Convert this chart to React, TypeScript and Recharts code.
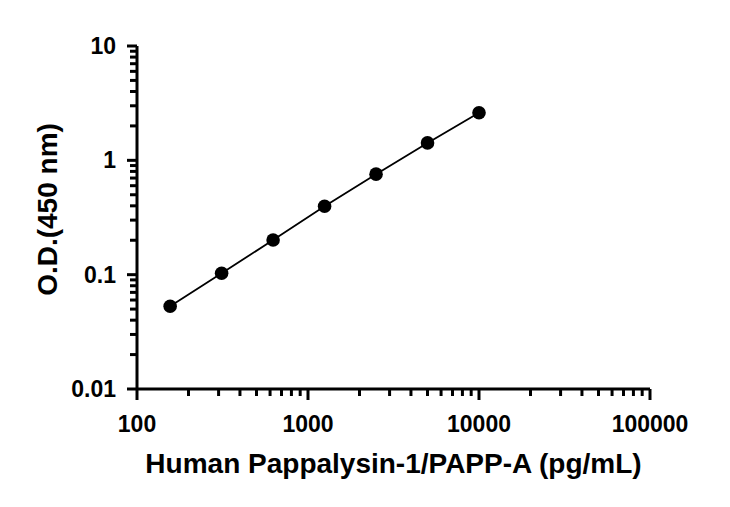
import { ScatterChart, Scatter, XAxis, YAxis } from 'recharts';

// concentration (pg/mL) and optical density readings
const CONCENTRATIONS = [156.25, 312.5, 625, 1250, 2500, 5000, 10000];
const OD_VALUES = [0.053, 0.103, 0.201, 0.397, 0.757, 1.42, 2.61];

const X_MAJOR = [100, 1000, 10000, 100000];
const Y_MAJOR = [0.01, 0.1, 1, 10];
const MINOR_STEPS = [2, 3, 4, 5, 6, 7, 8, 9];

const withMinors = (majors: number[]) => {
  const out: number[] = [];
  majors.forEach((m, i) => {
    out.push(m);
    if (i < majors.length - 1) MINOR_STEPS.forEach((s) => out.push(m * s));
  });
  return out;
};

const X_TICKS = withMinors(X_MAJOR);
const Y_TICKS = withMinors(Y_MAJOR);

const data = CONCENTRATIONS.map((c, i) => ({ conc: c, od: OD_VALUES[i] }));

const FONT = '"Liberation Sans", Arial, sans-serif';

const isMajor = (v: number) => Math.abs(Math.log10(v) - Math.round(Math.log10(v))) < 1e-6;

function XTick(props: any) {
  const { x, y, payload } = props;
  const major = isMajor(payload.value);
  return (
    <g>
      <line x1={x} x2={x} y1={y} y2={y + (major ? 11 : 7)} stroke="#000" strokeWidth={3} />
      {major && (
        <text x={x} y={y + 43} textAnchor="middle" fontFamily={FONT} fontWeight="bold" fontSize={23} fill="#000">
          {payload.value}
        </text>
      )}
    </g>
  );
}

function YTick(props: any) {
  const { x, y, payload } = props;
  const major = isMajor(payload.value);
  return (
    <g>
      <line x1={x} x2={x - (major ? 10 : 7)} y1={y} y2={y} stroke="#000" strokeWidth={3} />
      {major && (
        <text x={x - 21} y={y + 8} textAnchor="end" fontFamily={FONT} fontWeight="bold" fontSize={23} fill="#000">
          {payload.value}
        </text>
      )}
    </g>
  );
}

export default function App() {
  return (
    <div style={{ width: 714, height: 491 }}>
      <ScatterChart width={714} height={491} margin={{ top: 38, right: 72, bottom: 70, left: 69 }}>
        <XAxis
          type="number"
          dataKey="conc"
          scale="log"
          domain={[100, 100000]}
          ticks={X_TICKS}
          interval={0}
          allowDataOverflow
          height={40}
          tickSize={0}
          tickMargin={0}
          tickLine={false}
          axisLine={{ stroke: '#000', strokeWidth: 3 }}
          tick={<XTick />}
          label={{
            content: (p: any) => {
              const vb = p.viewBox;
              return (
                <text x={vb.x + vb.width / 2} y={vb.y + 84} textAnchor="middle" fontFamily={FONT} fontWeight="bold" fontSize={28} fill="#000">
                  Human Pappalysin-1/PAPP-A (pg/mL)
                </text>
              );
            },
          }}
        />
        <YAxis
          type="number"
          dataKey="od"
          scale="log"
          domain={[0.01, 10]}
          ticks={Y_TICKS}
          interval={0}
          allowDataOverflow
          width={60}
          tickSize={0}
          tickMargin={0}
          tickLine={false}
          axisLine={{ stroke: '#000', strokeWidth: 3 }}
          tick={<YTick />}
          label={{
            content: (p: any) => {
              const vb = p.viewBox;
              const cy = vb.y + vb.height / 2 - 8;
              return (
                <text x={49} y={cy} transform={`rotate(-90, 49, ${cy})`} textAnchor="middle" fontFamily={FONT} fontWeight="bold" fontSize={28} fill="#000">
                  O.D.(450 nm)
                </text>
              );
            },
          }}
        />
        <Scatter
          data={data}
          fill="#000"
          line={{ stroke: '#000', strokeWidth: 1.8 }}
          shape={(p: any) => <circle cx={p.cx} cy={p.cy} r={6.8} fill="#000" />}
          isAnimationActive={false}
        />
      </ScatterChart>
    </div>
  );
}
